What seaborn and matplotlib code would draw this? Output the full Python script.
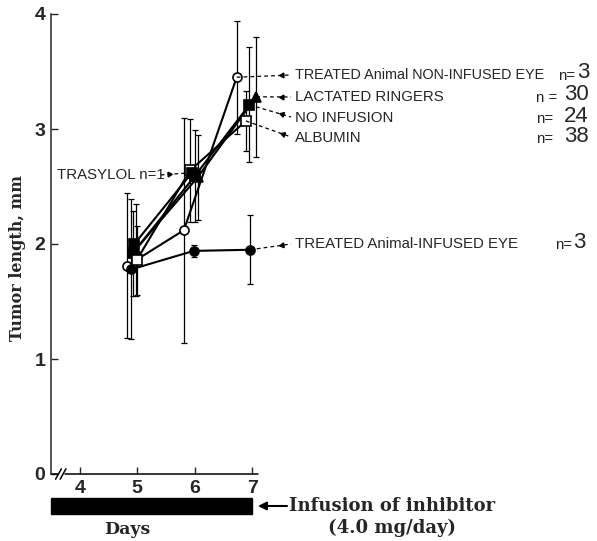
import numpy as np
import pandas as pd
import seaborn as sns
import matplotlib.pyplot as plt
from matplotlib.patches import Rectangle
from matplotlib.lines import Line2D

# values (tumor length in mm, +/- error bar half length)
noninf_days = [4.82, 5.81, 6.73]
noninf_len = [1.81, 2.12, 3.45]
noninf_err = [0.63, 0.98, 0.49]

inf_days = [4.90, 5.98, 6.96]
inf_len = [1.78, 1.94, 1.95]
inf_err = [0.61, 0.05, 0.30]

lr_days = [4.97, 6.05, 7.07]
lr_len = [1.95, 2.58, 3.28]
lr_err = [0.40, 0.37, 0.52]

noinf_days = [4.92, 6.00, 6.95]
noinf_len = [1.92, 2.59, 3.21]
noinf_err = [0.37, 0.40, 0.50]

alb_days = [4.99, 5.92, 6.89]
alb_len = [1.86, 2.64, 3.07]
alb_err = [0.30, 0.45, 0.26]

tras_days = [4.95, 5.95]
tras_len = [2.00, 2.62]

day_ticks = [4, 5, 6, 7]
len_ticks = [0, 1, 2, 3, 4]

sns.set_style("ticks")
plt.rcParams['font.family'] = ['Liberation Sans', 'DejaVu Sans']

W, H = 597, 541
fig = plt.figure(figsize=(W / 100, H / 100), dpi=100)
ax = fig.add_axes([51 / W, 1 - 474 / H, (258 - 51) / W, (474 - 14) / H])
ax.set_xlim(3.5, 7.1)
ax.set_ylim(0, 4)

# marker, face colour, error bars
groups = [
    ("noninf", noninf_days, noninf_len, noninf_err, "o", "white"),
    ("inf", inf_days, inf_len, inf_err, "o", "black"),
    ("lr", lr_days, lr_len, lr_err, "^", "black"),
    ("noinf", noinf_days, noinf_len, noinf_err, "s", "black"),
    ("alb", alb_days, alb_len, alb_err, "s", "white"),
    ("tras", tras_days, tras_len, None, "s", "black"),
]
points = {}
for name, d, l, e, m, fc in groups:
    df = pd.DataFrame({"day": d, "length": l})
    sns.lineplot(data=df, x="day", y="length", marker=m, markersize=6.5,
                 color="black", linewidth=1.5, markerfacecolor=fc,
                 markeredgecolor="black", markeredgewidth=1.2, sort=False,
                 ax=ax, clip_on=False, zorder=3)
    if e is not None:
        ax.errorbar(d, l, yerr=e, fmt="none", ecolor="black", elinewidth=0.9,
                    capsize=2.5, capthick=0.9, clip_on=False, zorder=2)
    points[name] = (d, l)

ax.set_xlabel("")
ax.set_ylabel("")
ax.set_xticks(day_ticks)
ax.set_yticks(len_ticks)
ax.set_xticklabels([str(t) for t in day_ticks], fontweight="bold", fontsize=14)
ax.set_yticklabels([str(t) for t in len_ticks], fontweight="bold", fontsize=14)
ax.tick_params(direction="in", length=5, width=1, pad=4)
for s in ["top", "right", "bottom"]:
    ax.spines[s].set_visible(False)
ax.spines["left"].set_linewidth(1.1)

# x axis with a break after the origin
ax.plot([3.5, 3.62], [0, 0], color="black", lw=1.1, clip_on=False)
ax.plot([3.74, 7.1], [0, 0], color="black", lw=1.1, clip_on=False)
for bx in [3.63, 3.71]:
    ax.plot([bx - 0.05, bx + 0.05], [-0.045, 0.045], color="black", lw=1.1, clip_on=False)

# infusion period bar
ax.add_patch(Rectangle((3.5, -0.35), 3.5, 0.14, facecolor="black",
                       edgecolor="black", clip_on=False))
fig.text(127 / W, 1 - 529 / H, "Days", family="DejaVu Serif", fontweight="bold",
         fontsize=12.5, ha="center", va="center")
ax.annotate("", xy=(258 / W, 1 - 506 / H), xytext=(287 / W, 1 - 506 / H),
            xycoords="figure fraction", textcoords="figure fraction",
            arrowprops=dict(arrowstyle="-|>", color="black", lw=1.5,
                            mutation_scale=12, shrinkA=0, shrinkB=0))
fig.text(289 / W, 1 - 506 / H, "Infusion of inhibitor", family="DejaVu Serif",
         fontweight="bold", fontsize=13, ha="left", va="center")
fig.text(392 / W, 1 - 528 / H, "(4.0 mg/day)", family="DejaVu Serif",
         fontweight="bold", fontsize=13, ha="center", va="center")
fig.text(18 / W, 1 - 258 / H, "Tumor length, mm", family="DejaVu Serif",
         fontweight="bold", fontsize=11.5, rotation=90, ha="center", va="center")


def leader(name, idx, px, py):
    d, l = points[name]
    p = ax.transData.transform((d[idx], l[idx]))
    q = np.array([px, H - py])
    fp = fig.transFigure.inverted().transform(p)
    fq = fig.transFigure.inverted().transform(q)
    fig.add_artist(Line2D([fp[0], fq[0]], [fp[1], fq[1]], color="black",
                          lw=0.9, linestyle=(0, (3, 2.5))))
    v = p - q
    ang = np.degrees(np.arctan2(v[1], v[0]))
    h = q + v / np.linalg.norm(v) * 9
    fh = fig.transFigure.inverted().transform(h)
    fig.add_artist(Line2D([fh[0]], [fh[1]], marker=(3, 0, ang - 90),
                          markersize=4, color="black"))


lab_kw = dict(fontsize=10.8, ha="left", va="center")
big_kw = dict(fontsize=16, ha="right", va="center")

leader("noninf", 2, 291, 75)
fig.text(295 / W, 1 - 75 / H, "TREATED Animal NON-INFUSED EYE", fontsize=10.4,
         ha="left", va="center")
fig.text(558 / W, 1 - 76 / H, "n=", **lab_kw)
fig.text(589 / W, 1 - 72 / H, "3", **big_kw)

leader("lr", 2, 291, 97)
fig.text(295 / W, 1 - 97 / H, "LACTATED RINGERS", **lab_kw)
fig.text(536 / W, 1 - 98 / H, "n =", **lab_kw)
fig.text(589 / W, 1 - 95 / H, "30", **big_kw)

leader("noinf", 2, 291, 117)
fig.text(295 / W, 1 - 118 / H, "NO INFUSION", **lab_kw)
fig.text(536 / W, 1 - 119 / H, "n=", **lab_kw)
fig.text(589 / W, 1 - 116 / H, "24", **big_kw)

leader("alb", 2, 291, 137)
fig.text(295 / W, 1 - 138 / H, "ALBUMIN", **lab_kw)
fig.text(536 / W, 1 - 139 / H, "n=", **lab_kw)
fig.text(589 / W, 1 - 136 / H, "38", **big_kw)

leader("inf", 2, 291, 244)
fig.text(295 / W, 1 - 244 / H, "TREATED Animal-INFUSED EYE", **lab_kw)
fig.text(555 / W, 1 - 245 / H, "n=", **lab_kw)
fig.text(585 / W, 1 - 242 / H, "3", **big_kw)

leader("tras", 1, 160, 175)
fig.text(57 / W, 1 - 175 / H, "TRASYLOL n=1", **lab_kw)

fig.savefig("out.png", dpi=100)
